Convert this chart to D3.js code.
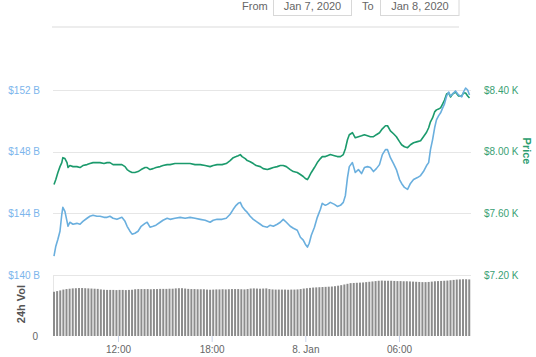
<!DOCTYPE html>
<html><head><meta charset="utf-8">
<script src="https://cdn.jsdelivr.net/npm/d3@7"></script>
<style>
html,body{margin:0;padding:0;background:#fff;overflow:hidden}
svg{display:block;font-family:"Lucida Grande","Liberation Sans",Arial,sans-serif}
</style></head>
<body><svg id="c" width="536" height="357"></svg>
<script>
// Minutes since 2020-01-07 00:00 for each line point
const timeMin = [
 474,481,489,497,504,508,516,524,528,535,
 547,562,574,585,601,612,624,639,651,666,
 678,689,701,716,735,747,755,766,774,785,
 797,809,824,832,843,855,866,882,893,909,
 920,939,959,978,997,1016,1036,1055,1074,1086,
 1101,1120,1136,1151,1163,1174,1182,1190,1197,1209,
 1217,1228,1240,1251,1267,1278,1294,1305,1317,1332,
 1344,1355,1367,1382,1394,1409,1421,1432,1440,1448,
 1455,1463,1475,1486,1498,1505,1517,1525,1536,1552,
 1563,1575,1586,1594,1602,1609,1621,1632,1644,1656,
 1667,1679,1690,1702,1713,1725,1736,1748,1756,1767,
 1779,1790,1802,1810,1821,1833,1844,1856,1871,1883,
 1894,1906,1914,1921,1929,1937,1944,1952,1960,1968,
 1975,1983,1991,1998,2006,2017,2029,2041,2048,2056,
 2064,2071
];
// Market cap, billions USD
const marketCap = [
 141.23,141.87,142.32,142.84,143.94,144.39,144.13,143.48,143.16,143.42,
 143.29,143.35,143.29,143.48,143.68,143.81,143.87,143.81,143.81,143.74,
 143.74,143.81,143.68,143.61,143.74,143.48,143.16,142.84,142.65,142.71,
 142.84,143.16,143.35,143.42,143.10,143.16,143.23,143.42,143.55,143.68,
 143.61,143.68,143.74,143.68,143.74,143.68,143.61,143.55,143.42,143.55,
 143.61,143.61,143.68,143.94,144.26,144.52,144.65,144.71,144.45,144.19,
 144.06,143.81,143.61,143.48,143.29,143.16,143.10,143.23,143.16,143.29,
 143.42,143.61,143.42,143.16,143.03,142.90,142.45,142.26,142.00,141.81,
 142.06,142.58,143.10,143.74,144.26,144.65,144.52,144.58,144.71,144.58,
 144.45,144.52,144.71,145.16,146.32,147.03,147.29,146.65,146.84,146.58,
 146.97,147.03,146.97,146.71,146.90,147.16,147.81,148.13,148.13,147.61,
 147.23,146.84,146.19,145.94,145.68,145.55,145.94,146.19,146.32,146.45,
 146.71,147.10,147.29,148.13,148.77,149.55,150.06,150.32,150.52,150.84,
 151.10,151.61,151.87,151.61,151.74,151.94,151.68,151.55,151.87,152.13,
 152.00,151.68
];
// Price, USD
const price = [
 7787,7819,7865,7903,7929,7961,7955,7929,7897,7910,
 7903,7903,7897,7910,7916,7923,7929,7929,7929,7923,
 7929,7929,7916,7916,7916,7903,7884,7871,7865,7865,
 7871,7884,7897,7897,7884,7890,7897,7903,7910,7916,
 7916,7923,7923,7923,7923,7916,7916,7910,7903,7910,
 7916,7916,7923,7942,7961,7968,7974,7981,7968,7955,
 7942,7935,7923,7910,7903,7890,7884,7890,7897,7903,
 7910,7910,7903,7884,7871,7865,7852,7839,7826,7819,
 7839,7865,7897,7929,7955,7968,7968,7974,7981,7974,
 7968,7968,7981,8019,8077,8110,8123,8090,8097,8103,
 8110,8103,8097,8097,8110,8123,8148,8168,8168,8135,
 8116,8097,8065,8045,8032,8026,8045,8058,8065,8071,
 8097,8126,8155,8194,8219,8258,8271,8277,8284,8310,
 8335,8374,8381,8355,8374,8387,8361,8361,8381,8381,
 8361,8348
];
// 24h volume, billions USD, one bar every 12 minutes from 07:54 Jan 7
const volStartMin = 474, volStepMin = 12;
const volume = [
 26.1,26.5,26.9,27.4,27.7,27.9,28.1,28.2,28.3,28.3,
 28.2,28.1,28.0,27.9,27.8,27.5,27.3,27.2,27.2,27.2,
 27.1,27.2,27.2,27.1,27.2,27.3,27.6,27.7,27.7,27.7,
 27.7,27.6,27.7,27.7,27.8,27.8,27.8,27.9,27.9,28.1,
 28.2,28.2,28.0,27.8,27.7,27.7,27.6,27.6,27.6,27.4,
 27.3,27.4,27.5,27.5,27.6,27.5,27.6,27.7,27.7,27.7,
 27.6,27.5,27.7,28.0,28.1,28.0,27.9,28.0,28.1,27.7,
 27.5,27.4,27.4,27.4,27.4,27.3,27.4,27.4,27.5,27.7,
 28.0,28.2,28.4,28.6,28.7,28.8,28.9,29.0,29.1,29.2,
 29.4,29.7,30.0,30.4,30.8,31.2,31.3,31.4,31.5,31.6,
 31.8,32.0,32.2,32.4,32.6,32.7,32.6,32.6,32.6,32.5,
 32.4,32.4,32.3,32.3,32.2,32.1,32.0,31.9,31.8,31.8,
 31.9,32.1,32.3,32.4,32.5,32.6,32.7,32.9,33.1,33.3,
 33.4,33.5,33.5,33.4
];
const capTicks = [140, 144, 148, 152];
const priceTicks = [7200, 7600, 8000, 8400];
const fromLabel = "Jan 7, 2020", toLabel = "Jan 8, 2020";

const day0 = new Date(2020, 0, 7, 0, 0, 0);
const toDate = m => new Date(day0.getTime() + m * 60000);

const svg = d3.select("#c");
const L = 54, R = 469.5;
const x = d3.scaleTime().domain([toDate(474), toDate(2071)]).range([L, R]);
const yCap = d3.scaleLinear().domain([140, 152]).range([275, 90]);
const yPrice = d3.scaleLinear().domain([7200, 8400]).range([275, 90]);
const yVol = d3.scaleLinear().domain([0, 36]).range([336, 275]);

const blue = "#6aafde", green = "#1b9a6c";
const gridL = 53, gridR = 471;

// top range selector
svg.append("text").attr("x", 242).attr("y", 10).attr("font-size", 11).attr("fill", "#666").text("From");
svg.append("rect").attr("x", 273.5).attr("y", -6).attr("width", 78).attr("height", 21.5)
  .attr("fill", "#fff").attr("stroke", "#d8d8d8");
svg.append("text").attr("x", 312.5).attr("y", 10).attr("font-size", 11).attr("fill", "#666")
  .attr("text-anchor", "middle").text(fromLabel);
svg.append("text").attr("x", 362).attr("y", 10).attr("font-size", 11).attr("fill", "#666").text("To");
svg.append("rect").attr("x", 380.5).attr("y", -6).attr("width", 78.5).attr("height", 21.5)
  .attr("fill", "#fff").attr("stroke", "#d8d8d8");
svg.append("text").attr("x", 420).attr("y", 10).attr("font-size", 11).attr("fill", "#666")
  .attr("text-anchor", "middle").text(toLabel);
svg.append("line").attr("x1", 52).attr("x2", 459).attr("y1", 27).attr("y2", 27)
  .attr("stroke", "#ededed").attr("stroke-width", 2);

// grid
const g = svg.append("g");
capTicks.forEach(v => {
  g.append("line").attr("x1", gridL).attr("x2", gridR)
    .attr("y1", Math.round(yCap(v)) + 0.5).attr("y2", Math.round(yCap(v)) + 0.5)
    .attr("stroke", "#e6e6e6");
});
// volume panel left border
svg.append("line").attr("x1", 53.5).attr("x2", 53.5).attr("y1", 275).attr("y2", 336)
  .attr("stroke", "#e6e6e6");

// left axis labels (market cap)
const leftAxis = d3.axisLeft(yCap).tickValues(capTicks).tickSize(0).tickPadding(0)
  .tickFormat(d => "$" + d + " B");
const la = svg.append("g").attr("transform", "translate(40,0)").call(leftAxis);
la.select(".domain").remove();
la.selectAll("text").attr("font-size", 10).attr("fill", "#7cb5ec")
  .attr("font-family", '"Lucida Grande","Liberation Sans",Arial,sans-serif').attr("dy", "0.32em");

// right axis labels (price)
const rightAxis = d3.axisRight(yPrice).tickValues(priceTicks).tickSize(0).tickPadding(0)
  .tickFormat(d => "$" + d3.format(".2f")(d / 1000) + " K");
const ra = svg.append("g").attr("transform", "translate(484,0)").call(rightAxis);
ra.select(".domain").remove();
ra.selectAll("text").attr("font-size", 10).attr("fill", "#3a9f74")
  .attr("font-family", '"Lucida Grande","Liberation Sans",Arial,sans-serif').attr("dy", "0.32em");

// volume axis
const volAxis = d3.axisLeft(yVol).tickValues([0]).tickSize(0).tickPadding(0).tickFormat(d3.format("d"));
const va = svg.append("g").attr("transform", "translate(38,0)").call(volAxis);
va.select(".domain").remove();
va.selectAll("text").attr("font-size", 10).attr("fill", "#666")
  .attr("font-family", '"Lucida Grande","Liberation Sans",Arial,sans-serif').attr("dy", "0.32em");

// axis titles
svg.append("text").attr("transform", "translate(-2,151) rotate(-90)").attr("text-anchor", "middle")
  .attr("font-size", 11).attr("font-weight", "bold").attr("fill", "#7cb5ec").text("Market Cap");
svg.append("text").attr("transform", "translate(523,151) rotate(90)").attr("text-anchor", "middle")
  .attr("font-size", 11).attr("font-weight", "bold").attr("fill", "#2a9d6e").text("Price");
svg.append("text").attr("transform", "translate(25,304) rotate(-90)").attr("text-anchor", "middle")
  .attr("font-size", 11).attr("font-weight", "bold").attr("fill", "#555").text("24h Vol");

// volume bars
const volData = volume.map((v, i) => ({ t: toDate(volStartMin + i * volStepMin), v }));
svg.append("g").selectAll("rect").data(volData).join("rect")
  .attr("x", d => x(d.t) - 1).attr("width", 2)
  .attr("y", d => yVol(d.v)).attr("height", d => yVol(0) - yVol(d.v))
  .attr("fill", "#8c8c8c");

// x axis
const xAxis = d3.axisBottom(x)
  .tickValues([toDate(720), toDate(1080), toDate(1440), toDate(1800)])
  .tickSize(6).tickPadding(4)
  .tickFormat(d => d.getHours() === 0 ? d3.timeFormat("%-d. %b")(d) : d3.timeFormat("%H:%M")(d));
const xa = svg.append("g").attr("transform", "translate(0,336)").call(xAxis);
xa.select(".domain").remove();
xa.selectAll(".tick line").attr("stroke", "#ccd6eb");
xa.selectAll("text").attr("font-size", 10).attr("fill", "#666")
  .attr("font-family", '"Lucida Grande","Liberation Sans",Arial,sans-serif');

// lines
const pts = timeMin.map((m, i) => ({ t: toDate(m), cap: marketCap[i], p: price[i] }));
svg.append("path").datum(pts).attr("fill", "none").attr("stroke", green).attr("stroke-width", 1.6)
  .attr("stroke-linejoin", "round")
  .attr("d", d3.line().x(d => x(d.t)).y(d => yPrice(d.p)));
svg.append("path").datum(pts).attr("fill", "none").attr("stroke", blue).attr("stroke-width", 1.6)
  .attr("stroke-linejoin", "round")
  .attr("d", d3.line().x(d => x(d.t)).y(d => yCap(d.cap)));
</script></body></html>
